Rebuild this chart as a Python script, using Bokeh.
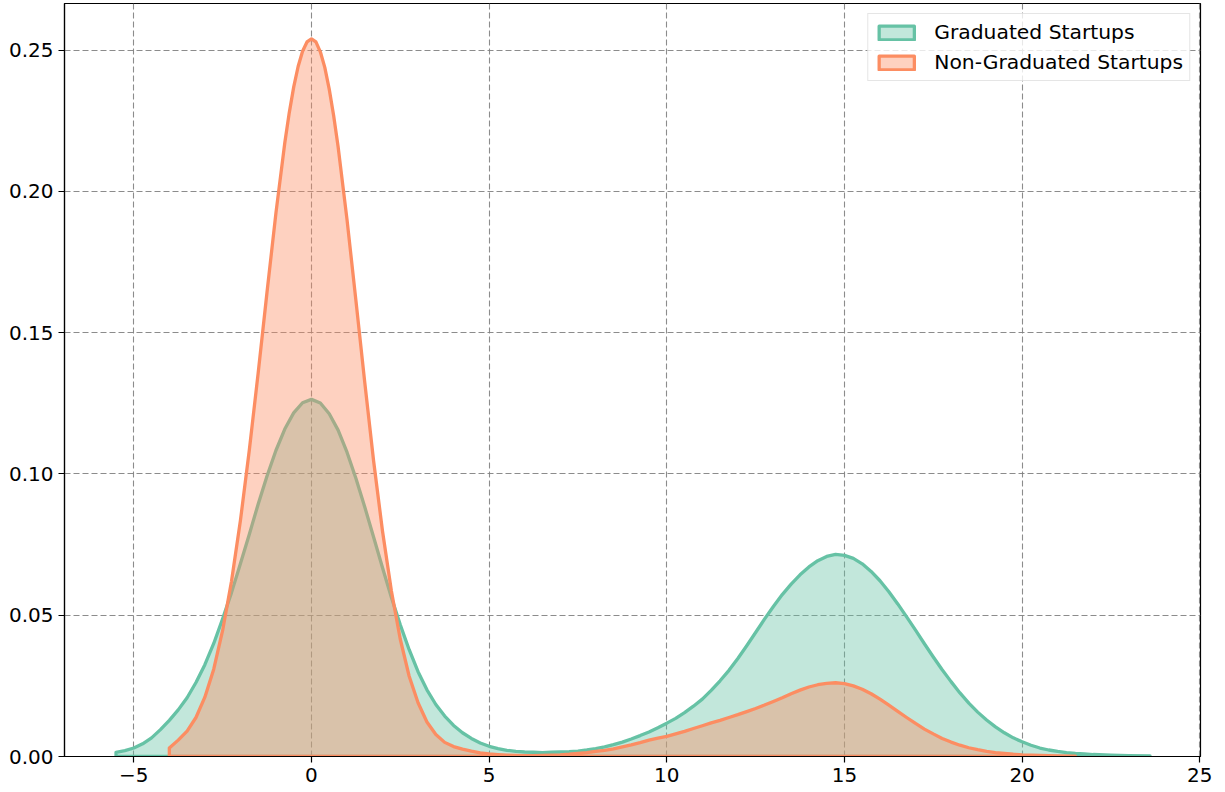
from bokeh.plotting import figure
from bokeh.models import Range1d, FixedTicker, PrintfTickFormatter, Legend, LegendItem
from bokeh.embed import file_html
from bokeh.resources import INLINE

# ---- data (KDE curves) ----
grad_x = [-5.5, -5.25, -5.0, -4.75, -4.5, -4.25, -4.0, -3.75, -3.5, -3.25, -3.0, -2.75, -2.5, -2.25,
          -2.0, -1.75, -1.5, -1.25, -1.0, -0.75, -0.5, -0.25, 0.0, 0.25, 0.5, 0.75, 1.0, 1.25,
          1.5, 1.75, 2.0, 2.25, 2.5, 2.75, 3.0, 3.25, 3.5, 3.75, 4.0, 4.25, 4.5, 4.75, 5.0, 5.25,
          5.5, 5.75, 6.0, 6.25, 6.5, 6.75, 7.0, 7.25, 7.5, 7.75, 8.0, 8.25, 8.5, 8.75, 9.0, 9.25,
          9.5, 9.75, 10.0, 10.25, 10.5, 10.75, 11.0, 11.25, 11.5, 11.75, 12.0, 12.25, 12.5, 12.75,
          13.0, 13.25, 13.5, 13.75, 14.0, 14.25, 14.5, 14.75, 15.0, 15.25, 15.5, 15.75, 16.0,
          16.25, 16.5, 16.75, 17.0, 17.25, 17.5, 17.75, 18.0, 18.25, 18.5, 18.75, 19.0, 19.25,
          19.5, 19.75, 20.0, 20.25, 20.5, 20.75, 21.0, 21.25, 21.5, 21.75, 22.0, 22.5, 23.0, 23.6]
grad_y = [0.0015, 0.0021, 0.0030, 0.0045, 0.0066, 0.0095, 0.0128, 0.0165, 0.0208, 0.0262, 0.0325,
          0.0400, 0.0487, 0.0580, 0.0682, 0.0786, 0.0893, 0.0993, 0.1083, 0.1159, 0.1216, 0.1252,
          0.1264, 0.1251, 0.1213, 0.1155, 0.1077, 0.0985, 0.0883, 0.0776, 0.0668, 0.0563, 0.0466,
          0.0378, 0.0300, 0.0236, 0.0184, 0.0143, 0.0110, 0.0084, 0.0064, 0.0048, 0.0036, 0.0028,
          0.0022, 0.0018, 0.0016, 0.0015, 0.0014, 0.0015, 0.0016, 0.0017, 0.0019, 0.0023, 0.0028,
          0.0034, 0.0042, 0.0051, 0.0062, 0.0074, 0.0087, 0.0102, 0.0118, 0.0135, 0.0155, 0.0178,
          0.0203, 0.0234, 0.0268, 0.0305, 0.0347, 0.0392, 0.0439, 0.0486, 0.0531, 0.0573, 0.0610,
          0.0643, 0.0671, 0.0693, 0.0708, 0.0715, 0.0712, 0.0701, 0.0682, 0.0655, 0.0622, 0.0583,
          0.0540, 0.0494, 0.0447, 0.0399, 0.0352, 0.0307, 0.0265, 0.0225, 0.0189, 0.0157, 0.0129,
          0.0105, 0.0084, 0.0066, 0.0052, 0.0040, 0.0030, 0.0023, 0.0018, 0.0014, 0.0011, 0.0009,
          0.0007, 0.0005, 0.0003, 0.0002]

nongrad_x = [-4.0, -3.75, -3.5, -3.25, -3.0, -2.75, -2.5, -2.25, -2.0, -1.75, -1.5, -1.25, -1.0,
             -0.75, -0.625, -0.5, -0.375, -0.25, -0.125, 0.0, 0.125, 0.25, 0.375, 0.5, 0.625,
             0.75, 1.0, 1.25, 1.5, 1.75, 2.0, 2.25, 2.5, 2.75,
             3.0, 3.25, 3.5, 3.75, 4.0, 4.25, 4.5, 4.75, 5.0, 5.25, 5.5, 5.75, 6.0, 6.25, 6.5, 6.75,
             7.0, 7.25, 7.5, 7.75, 8.0, 8.25, 8.5, 8.75, 9.0, 9.25, 9.5, 9.75, 10.0, 10.25, 10.5,
             10.75, 11.0, 11.25, 11.5, 11.75, 12.0, 12.25, 12.5, 12.75, 13.0, 13.25, 13.5, 13.75,
             14.0, 14.25, 14.5, 14.75, 15.0, 15.25, 15.5, 15.75, 16.0, 16.25, 16.5, 16.75, 17.0,
             17.25, 17.5, 17.75, 18.0, 18.25, 18.5, 18.75, 19.0, 19.25, 19.5, 19.75, 20.0, 20.5,
             21.0, 21.5]
nongrad_y = [0.0030, 0.0058, 0.0090, 0.0138, 0.0210, 0.0309, 0.0446, 0.0620, 0.0834, 0.1083, 0.1357,
             0.1644, 0.1923, 0.2172, 0.2278, 0.2369, 0.2442, 0.2496, 0.2529, 0.2540, 0.2529, 0.2494,
             0.2439, 0.2362, 0.2268, 0.2158, 0.1901, 0.1615,
             0.1324, 0.1045, 0.0797, 0.0586, 0.0415, 0.0284, 0.0190, 0.0122, 0.0078, 0.0050, 0.0035,
             0.0026, 0.0019, 0.0013, 0.0009, 0.0007, 0.0005, 0.0004, 0.0003, 0.0003, 0.0004, 0.0005,
             0.0006, 0.0008, 0.0011, 0.0014, 0.0018, 0.0022, 0.0027, 0.0034, 0.0041, 0.0049, 0.0058,
             0.0065, 0.0071, 0.0080, 0.0089, 0.0099, 0.0109, 0.0119, 0.0128, 0.0138, 0.0148, 0.0159,
             0.0170, 0.0182, 0.0195, 0.0208, 0.0222, 0.0235, 0.0246, 0.0254, 0.0259, 0.0261, 0.0258,
             0.0250, 0.0238, 0.0222, 0.0203, 0.0182, 0.0160, 0.0138, 0.0117, 0.0097, 0.0080, 0.0064,
             0.0051, 0.0040, 0.0031, 0.0024, 0.0018, 0.0014, 0.0011, 0.0008, 0.0006, 0.0004, 0.0002,
             0.0001]

series_labels = ["Graduated Startups", "Non-Graduated Startups"]
x_ticks = [-5, 0, 5, 10, 15, 20, 25]
y_ticks = [0.0, 0.05, 0.10, 0.15, 0.20, 0.25]

GREEN = "#66c2a5"
ORANGE = "#fc8d62"
FONT = "DejaVu Sans"

p = figure(width=1225, height=792, output_backend="svg", toolbar_location=None,
           x_range=Range1d(-6.95, 25.02), y_range=Range1d(0, 0.2665),
           min_border_left=64, min_border_right=25, min_border_top=3, min_border_bottom=36)

p.outline_line_color = "black"
p.outline_line_width = 1.2
p.outline_line_alpha = 1

# grid
for g in (p.xgrid, p.ygrid):
    g.grid_line_color = "#808080"
    g.grid_line_dash = "6 3"
    g.grid_line_width = 1.1
    g.grid_line_alpha = 0.9

p.xaxis.ticker = FixedTicker(ticks=x_ticks)
p.yaxis.ticker = FixedTicker(ticks=y_ticks)
p.yaxis.formatter = PrintfTickFormatter(format="%.2f")
p.xaxis.major_label_overrides = {t: (("\u2212" + str(-t)) if t < 0 else str(t)) for t in x_ticks}

for ax in (p.xaxis, p.yaxis):
    ax.axis_line_color = "black"
    ax.axis_line_width = 1.2
    ax.major_tick_line_color = "black"
    ax.major_tick_line_width = 1.2
    ax.major_tick_out = 6
    ax.major_tick_in = 0
    ax.minor_tick_line_color = None
    ax.major_label_text_font = FONT
    ax.major_label_text_font_size = "20px"
    ax.major_label_text_color = "black"
    ax.major_label_standoff = 5

def polygon(xs, ys):
    return [xs[0]] + list(xs) + [xs[-1]], [0.0] + list(ys) + [0.0]

gx, gy = polygon(grad_x, grad_y)
ox, oy = polygon(nongrad_x, nongrad_y)

r_g = p.patch(gx, gy, fill_color=GREEN, fill_alpha=0.4, line_color=GREEN, line_width=3.3,
              line_join="round")
r_o = p.patch(ox, oy, fill_color=ORANGE, fill_alpha=0.4, line_color=ORANGE, line_width=3.3,
              line_join="round")

legend = Legend(items=[LegendItem(label=series_labels[0], renderers=[r_g]),
                       LegendItem(label=series_labels[1], renderers=[r_o])],
                location="top_right", margin=10, padding=6, spacing=6,
                label_standoff=16, glyph_width=44, glyph_height=17,
                label_text_font=FONT, label_text_font_size="20.3px", label_text_color="black",
                border_line_color="#cccccc", border_line_width=1,
                background_fill_alpha=0.8)
p.add_layout(legend)

open("out.html", "w").write(file_html(p, INLINE))
